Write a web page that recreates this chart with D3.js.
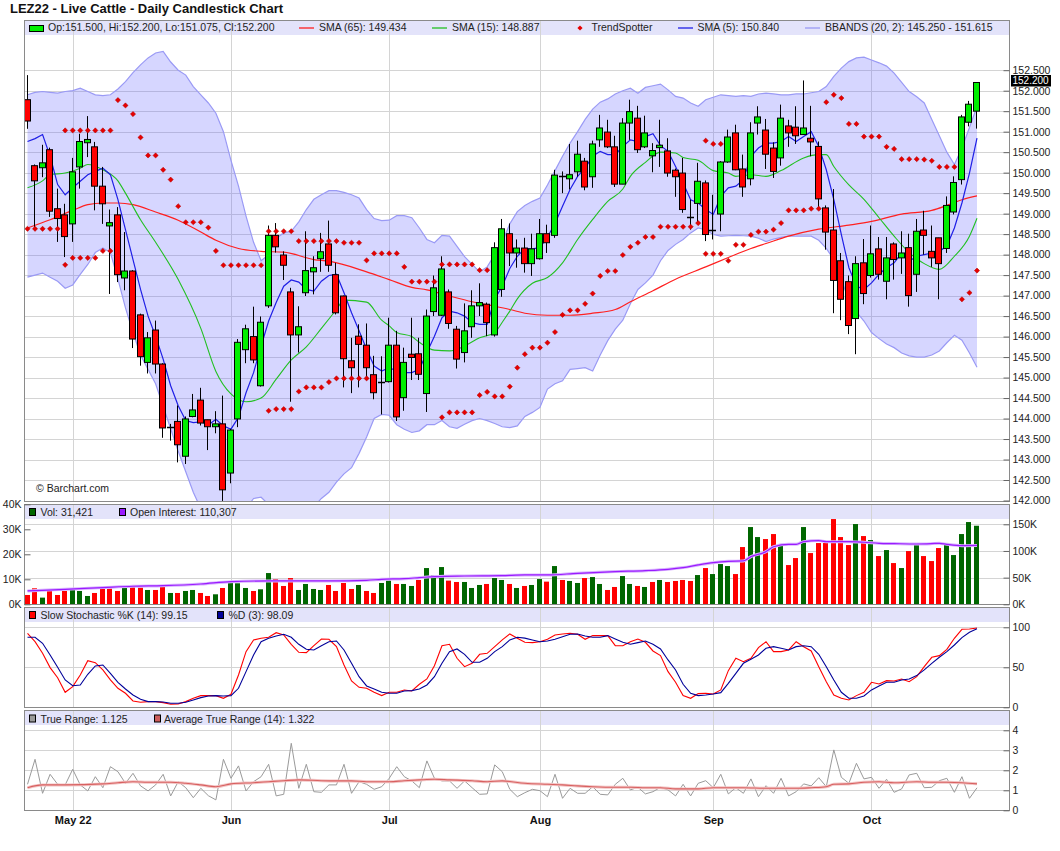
<!DOCTYPE html>
<html>
<head>
<meta charset="utf-8">
<script src="https://cdn.jsdelivr.net/npm/d3@7"></script>
<style>
  body { margin: 0; background: #fff; }
  svg { display: block; font-family: "Liberation Sans", Arial, sans-serif; }
</style>
</head>
<body>
<svg id="chart" width="1060" height="851"></svg>
<script>
// ---- data (Apr 22 - Oct 21 2022, one entry per session) ----
var monthTickIdx = [6, 27, 48, 68, 91, 112];
var monthTickLabels = ["May 22", "Jun", "Jul", "Aug", "Sep", "Oct"];

var opens = [151.78,150.17,150.12,150.56,149.12,148.97,148.75,150.14,150.73,150.63,
149.67,148.70,148.97,147.43,147.60,146.53,145.37,146.16,145.33,143.79,
143.93,143.08,144.05,144.45,143.97,143.80,143.87,142.67,143.99,145.68,
146.00,144.80,146.75,148.47,147.99,147.09,146.04,147.07,147.58,147.90,
148.26,147.51,146.99,145.41,146.01,145.79,145.07,144.90,144.90,145.79,
144.51,145.57,145.58,144.61,146.61,146.52,147.09,146.18,145.61,146.24,
146.75,146.79,146.04,147.15,148.51,148.04,148.16,147.78,147.90,148.51,
148.47,149.91,149.85,150.02,150.28,149.90,150.80,150.99,150.63,149.72,
151.21,151.33,150.63,150.41,150.61,150.53,150.06,149.99,148.91,149.25,
149.75,148.60,148.99,150.26,150.97,150.09,149.85,151.21,151.04,150.60,
150.36,151.14,151.11,150.93,150.84,150.64,149.14,148.60,147.85,147.34,
146.44,147.80,147.49,148.14,147.35,148.26,147.92,148.17,147.52,148.60,
148.08,148.41,148.15,149.04,149.83,151.23,151.50];

var highs = [152.38,150.20,150.68,150.61,149.61,149.24,150.36,150.95,151.38,150.75,
150.14,149.10,149.16,148.55,147.62,146.56,146.11,146.39,145.35,143.87,
144.32,144.05,144.60,144.75,143.97,144.18,144.56,143.75,145.94,146.29,
146.73,146.49,148.71,148.77,148.08,147.19,146.74,148.57,147.96,148.53,
148.83,147.80,147.00,145.97,146.30,146.32,145.53,145.52,146.46,146.14,
145.73,146.46,145.97,146.66,147.49,147.96,147.15,146.26,146.81,147.13,
147.30,146.83,148.30,148.87,148.76,148.37,148.41,148.51,148.87,148.73,
150.07,150.03,150.70,150.78,150.36,150.78,151.41,151.29,150.90,151.33,
151.78,151.63,151.39,150.72,151.29,150.84,150.10,150.36,149.34,150.24,
149.81,149.46,150.28,151.05,151.17,150.44,151.23,151.62,151.31,150.74,
151.66,151.29,151.62,152.25,151.63,150.76,149.20,149.60,148.04,147.49,
147.96,148.38,148.71,148.43,148.43,148.30,148.57,148.51,148.87,149.07,
148.71,148.41,149.42,149.91,151.41,151.75,152.20];

var lows = [151.07,148.67,149.89,148.92,148.31,147.94,148.31,149.61,150.38,149.08,
148.75,147.04,147.33,147.13,145.72,145.29,145.10,145.10,143.53,143.46,
142.93,142.89,144.03,143.83,143.23,143.64,141.99,142.42,143.79,145.35,
145.35,144.78,146.70,148.05,147.38,144.41,145.61,146.99,147.03,147.58,
147.58,146.54,144.76,144.62,144.76,145.00,144.47,144.10,144.88,143.94,
144.19,144.94,144.94,144.16,146.50,146.50,146.19,145.22,145.37,145.97,
146.50,146.01,146.00,146.97,147.72,147.68,147.56,147.48,147.88,148.04,
148.41,149.50,149.59,149.90,149.57,149.63,150.63,150.60,149.65,149.72,
150.80,150.48,150.60,150.01,150.14,149.90,149.41,149.02,148.61,148.77,
148.33,148.37,148.57,150.24,150.06,149.41,149.69,150.93,150.09,149.87,
150.17,150.63,150.70,150.93,150.40,149.10,148.12,146.57,146.40,146.06,
145.57,146.79,147.44,147.39,146.91,147.39,147.53,146.73,147.09,148.00,
147.70,146.91,148.04,148.98,149.71,151.13,151.075];

var closes = [151.26,149.80,150.24,149.06,148.88,148.44,150.02,150.76,150.81,149.67,
149.24,148.78,147.51,147.60,145.94,145.51,145.97,145.33,143.77,143.79,
143.36,143.99,144.21,143.89,143.80,143.87,142.26,143.72,145.86,146.19,
145.43,146.35,148.47,148.19,147.74,146.04,146.24,147.61,147.68,148.07,
147.74,146.58,145.46,145.24,145.81,145.24,144.63,144.90,145.79,144.04,
145.37,145.49,145.08,146.50,147.19,147.65,146.32,145.45,146.14,146.75,
146.83,146.34,148.17,148.63,148.04,148.16,147.78,148.14,148.51,148.29,
149.94,149.91,149.95,150.45,149.65,150.70,151.09,150.63,149.72,151.21,
151.49,150.56,150.97,150.54,150.67,149.99,149.90,149.10,148.91,149.79,
148.49,148.60,150.26,150.87,150.07,149.65,150.97,151.36,150.45,150.03,
151.33,150.97,150.90,151.09,150.75,149.36,148.55,147.37,146.91,146.27,
147.78,147.05,148.02,147.52,147.92,147.88,148.04,147.00,148.57,148.47,
147.92,147.78,149.20,149.76,151.36,151.67,152.20];

var sma5 = [150.76,150.83,150.93,150.40,149.71,149.46,149.63,149.79,149.95,150.03,
150.11,149.95,149.34,148.61,147.88,147.15,146.50,146.01,145.45,144.80,
144.31,143.95,143.90,143.92,143.84,143.98,143.82,143.74,144.03,144.63,
145.12,145.77,146.38,146.83,147.23,147.38,147.33,147.15,147.11,147.35,
147.49,147.52,147.07,146.58,146.14,145.69,145.28,145.16,145.24,145.16,
145.12,145.12,145.20,145.61,146.01,146.46,146.62,146.58,146.50,146.34,
146.30,146.30,146.91,147.23,147.66,147.96,148.15,148.14,148.17,148.43,
148.76,149.18,149.59,149.91,150.11,150.40,150.52,150.44,150.44,150.64,
150.80,150.76,150.88,150.95,150.66,150.52,150.15,149.75,149.34,149.26,
149.10,148.98,149.42,149.63,149.67,149.83,150.40,150.60,150.72,150.72,
150.76,150.88,150.76,150.88,151.00,150.64,150.07,149.34,148.49,147.68,
147.23,147.15,147.31,147.52,147.68,147.80,148.04,147.84,147.96,148.00,
148.04,148.08,148.21,148.65,149.26,149.99,150.84];

// SMA 15 / 65 read at selected sessions
var sma15Idx = [0,2,3,5,7,8,10,12,13,15,17,20,23,25,27,29,31,33,35,37,39,41,42,45,47,48,49,51,52,54,
56,58,60,62,63,64,65,67,69,71,73,75,77,79,80,82,84,86,87,89,91,93,94,96,98,100,103,105,106,107,
109,111,113,115,117,118,119,121,123,125,126];
var sma15 = [149.63,149.80,149.95,149.99,150.11,150.20,150.07,149.80,149.50,148.85,148.30,147.39,146.20,145.15,144.60,144.41,144.50,144.96,145.43,145.75,
146.20,146.66,146.89,146.84,146.40,146.26,146.10,146.00,145.86,145.67,145.65,145.77,145.97,146.10,146.35,146.62,146.92,147.30,147.44,147.80,
148.37,148.86,149.30,149.60,149.91,150.25,150.50,150.48,150.37,150.30,150.05,149.99,149.91,149.95,149.91,150.05,150.36,150.44,150.44,150.15,
149.70,149.35,148.90,148.45,148.05,147.90,147.78,147.64,147.96,148.45,148.887];

var sma65Idx = [0,3,6,8,10,12,14,17,20,23,25,28,31,34,38,40,45,48,51,53,56,59,62,64,66,69,72,75,78,80,
83,86,90,93,96,98,101,105,109,112,116,120,122,124,126];
var sma65 = [148.65,148.85,149.08,149.22,149.26,149.26,149.22,149.04,148.84,148.55,148.35,148.15,148.08,148.06,147.88,147.84,147.58,147.39,147.20,147.14,
146.99,146.85,146.74,146.66,146.57,146.52,146.52,146.57,146.66,146.85,147.12,147.40,147.70,147.93,148.15,148.27,148.45,148.62,148.72,148.81,
148.99,149.08,149.20,149.34,149.434];

var bbUpper = [151.90,151.96,151.98,151.96,151.94,151.98,152.00,152.06,151.98,151.90,
151.88,151.90,152.04,152.22,152.44,152.63,152.80,152.92,152.96,152.70,
152.50,152.38,152.10,151.90,151.70,151.45,151.00,150.30,149.67,148.94,
148.30,147.85,148.00,148.40,148.53,148.57,148.80,149.10,149.35,149.46,
149.56,149.56,149.52,149.46,149.38,149.10,148.88,148.83,148.84,148.95,
148.95,148.90,148.65,148.37,148.29,148.47,148.45,148.20,147.95,147.76,
147.58,147.70,148.00,148.30,148.75,149.05,149.20,149.30,149.38,149.70,
150.05,150.40,150.72,151.00,151.30,151.55,151.72,151.80,151.92,152.00,
152.06,151.94,152.08,152.12,152.16,152.02,151.86,151.82,151.70,151.62,
151.78,151.84,151.90,151.88,151.86,151.88,151.86,151.92,151.94,151.92,
151.90,151.90,151.92,151.92,151.95,151.98,152.10,152.35,152.55,152.71,
152.80,152.82,152.75,152.68,152.60,152.43,152.20,151.98,151.85,151.70,
151.30,150.90,150.50,150.20,150.60,151.10,151.615];

var bbLower = [147.45,147.50,147.55,147.45,147.35,147.18,147.26,147.52,147.76,148.05,
148.16,148.05,147.40,146.70,146.10,145.55,145.20,144.85,144.30,143.75,
143.20,142.70,142.20,141.80,141.65,141.50,141.45,141.40,141.55,141.80,
142.05,142.08,141.90,141.75,141.60,141.50,141.55,141.65,141.85,142.05,
142.20,142.45,142.65,142.80,143.15,143.55,144.00,144.10,144.08,143.85,
143.74,143.66,143.70,143.85,143.85,143.95,143.80,143.76,143.86,143.95,
144.00,143.95,143.88,143.80,143.78,143.82,144.05,144.15,144.27,144.72,
144.85,144.92,145.20,145.22,145.24,145.16,145.55,145.90,146.18,146.40,
146.80,147.15,147.31,147.50,147.85,148.10,148.25,148.37,148.53,148.65,
148.60,148.49,148.45,148.46,148.47,148.46,148.45,148.40,148.32,148.38,
148.42,148.45,148.45,148.45,148.45,148.35,148.15,147.88,147.40,146.87,
146.60,146.38,146.10,145.95,145.82,145.73,145.60,145.53,145.50,145.50,
145.55,145.65,145.85,146.03,145.91,145.60,145.25];

// TrendSpotter dots (some sessions carry one above and one below)
var tsLower = [148.63,148.63,148.63,148.63,148.63,147.75,147.92,147.92,147.92,147.92,
148.09,148.09,null,null,null,null,null,null,null,null,
null,null,null,null,null,null,null,null,null,null,
null,null,144.19,144.23,144.23,144.23,144.66,144.76,144.76,144.76,
144.89,144.98,144.98,144.98,144.98,144.98,null,null,null,null,
null,null,null,null,null,144.03,144.15,144.15,144.15,144.15,
144.57,144.65,144.54,144.54,144.78,145.24,145.57,145.73,145.73,145.85,
146.11,146.53,146.64,146.64,146.80,147.05,147.48,147.60,147.60,147.99,
148.19,148.29,148.43,148.43,148.68,148.68,148.68,148.68,148.68,148.77,
148.02,148.02,148.02,147.85,148.24,148.24,148.48,148.56,148.56,148.61,
148.77,149.08,149.08,149.08,149.12,149.12,null,null,null,null,
null,null,null,null,null,null,null,null,null,null,
null,null,null,null,146.91,147.07,147.61];

var tsUpper = [null,null,null,null,null,151.03,151.03,151.03,151.03,151.03,
151.03,151.03,151.77,151.64,151.43,150.86,150.42,150.42,150.07,149.83,
149.18,148.79,148.79,148.79,148.66,148.09,147.74,147.74,147.74,147.74,
147.74,147.74,148.57,148.57,148.57,148.57,148.33,148.33,148.33,148.33,
148.33,148.33,148.29,148.29,148.29,147.86,148.03,148.03,148.03,148.03,
147.70,147.34,147.34,147.34,147.34,147.76,147.76,147.76,147.76,147.76,
147.62,147.62,null,null,null,null,null,null,null,null,
null,null,null,null,null,null,null,null,null,null,
null,null,null,null,null,null,null,null,null,null,
150.78,150.70,150.70,null,null,null,null,null,null,null,
null,null,null,null,null,null,151.72,151.90,151.82,151.19,
151.19,150.88,150.88,150.88,150.63,150.58,150.33,150.33,150.33,150.32,
150.29,150.14,150.14,150.14,null,null,null];

var volumes = [3730,6400,2670,5330,3730,5330,5730,5330,3330,4530,
6400,6400,5330,7330,7330,6670,5730,5730,6930,4530,
4530,5330,5730,4530,3330,4000,6530,8930,8400,6530,
5330,6000,12500,10100,7330,10500,5730,8130,6130,5730,
7730,5330,8530,6130,7730,5330,4530,8530,9470,8130,
8130,7330,9730,14500,11700,14900,9470,8930,8930,6530,
7730,8130,10500,9730,8130,6530,7330,7730,10100,9070,
15300,9730,9330,8530,10500,10900,8130,5730,6930,11300,
8130,7330,6930,8930,9730,8930,9330,9730,9330,11700,
14500,12100,16100,15300,12100,22900,30900,26900,26100,28100,
23700,15700,18500,30900,20500,24500,24500,34100,26900,23700,
32100,27300,25700,19300,21700,16500,14500,21300,24100,19300,
17300,22500,24100,19700,28100,32900,31421];

var oiIdx = [0,5,10,14,18,23,27,32,36,40,45,47,50,52,54,58,63,66,69,73,
78,82,85,87,89,91,93,95,96,98,99,101,102,103,105,106,109,111,113,115,
118,120,121,122,124,126];
var openInterest = [25000,28100,31300,33800,35000,38100,42500,43800,43800,43800,45000,46900,48100,50000,51900,53100,53800,55000,55000,58100,
61300,63100,65600,68800,73800,78100,80600,81300,89400,98800,108000,112500,112500,117500,119400,117500,117500,116300,114400,113800,
113100,113800,114400,112500,110000,110307];

var stochK = [92.5,82,67.5,49.6,37,18.75,25.8,40.4,58.3,55.8,
46.7,34.2,23.75,17.5,7.9,6.25,7.1,7.1,5.8,3.75,
4.2,7.1,11.25,14.6,14.6,14.6,11.25,16.25,40.4,69.6,
84.2,86.25,87.5,93.3,90.4,78.75,68.75,68.3,77,85.4,
85,75.8,52.9,32.9,25,23.75,18.75,14.6,18.75,18.75,
21.7,20.4,28.75,35.4,52,77,78.75,61.25,50.8,55,
66.25,67.5,75.8,84.2,91.7,86.25,81.25,80.8,82,85,
90.4,91.7,92.5,91.25,85,89.6,89.6,89.6,77,77,
82,85.4,81.25,70.4,64.6,44.6,31.25,14.6,11.25,17.1,
17.5,16.7,21.7,45.8,61.25,57,61.25,74.6,82,69.6,
69.6,71.7,82,75.8,70.4,50.8,32,15.4,11.25,9.2,
14.6,18.75,31.25,29.2,33.3,32.9,35.4,32,38.3,50.8,
62.5,64.6,72.5,86.25,97.5,97.9,99.15];

var stochD = [87.5,87.5,80,65.4,50,34.2,27,27.9,41.25,51.7,
52.9,42.5,31.25,22.9,15.4,10,7.1,7.1,6.7,5,
5,6.25,9.2,12.1,14.2,14.6,14.2,14.6,23.75,44.6,
65.4,82,86.25,89.2,91.25,87.5,78.75,72.5,71.7,77,
82,82.9,71.7,55,38.3,26.7,22.9,18.75,17.5,17.5,
20.4,20.8,22.9,27.9,38.3,55,69.6,72.9,66.25,56.25,
56.25,61.25,69.6,75.8,84.2,87.5,86.5,84.2,82,82.9,
85,88.3,91.25,91.7,89.2,87.5,87.5,89.6,85.4,81.25,
78.75,80.8,82.9,78.75,72.9,59.2,46.7,28.75,17.5,14.6,
15.4,16.7,18.3,30,42.5,55,60,65.4,73.75,75.8,
73.75,71.7,75.8,77,75.8,66.25,50.8,34.2,18.75,11.25,
11.25,14.2,21.7,26.7,31.25,31.25,34.2,35.4,39.6,46.7,
55,62.5,69.6,77.9,87.1,93.75,98.09];

var trueRange = [1.3,2.55,0.85,1.8,1.3,1.27,2.05,1.27,0.97,1.68,
1.13,2.18,1.93,1.35,1.85,1.22,0.97,1.27,1.8,0.72,
1.43,1.13,0.63,1.1,0.73,0.52,2.55,1.6,2.22,0.97,
1.43,1.68,2.3,0.72,0.8,3.35,1.1,2.3,0.93,0.9,
1.27,1.27,2.3,0.85,1.43,1.3,1.05,1.18,1.6,2.18,
1.68,1.47,1.13,2.47,1.6,1.47,1.47,1.1,1.47,1.13,
0.8,0.82,2.27,1.93,1.05,0.68,0.88,1.05,0.98,0.68,
1.8,0.6,1.1,0.85,0.85,1.18,0.8,0.77,1.3,1.6,
1.02,1.15,0.82,0.93,1.15,1.02,0.72,1.3,0.72,1.35,
1.48,1.13,1.8,0.82,1.13,0.85,1.57,0.68,1.23,0.85,
1.6,0.72,0.93,1.32,1.22,1.63,1.18,3.02,1.65,1.35,
2.35,1.57,1.65,1.1,1.55,0.9,1.07,1.77,1.85,1.13,
1.15,1.48,1.6,0.9,1.68,0.6,1.125];

var atrIdx = [0,2,5,10,12,14,16,19,21,23,25,27,30,32,34,36,39,41,43,45,48,50,52,54,56,59,61,63,66,69,
71,73,75,78,80,82,84,86,89,91,93,95,98,100,102,104,106,107,109,111,113,115,118,120,122,124,126];
var atr = [1.13,1.27,1.27,1.32,1.38,1.43,1.40,1.40,1.35,1.27,1.18,1.32,1.38,1.43,1.48,1.52,1.48,1.47,1.47,1.43,
1.43,1.48,1.52,1.55,1.52,1.48,1.43,1.47,1.35,1.30,1.27,1.22,1.18,1.15,1.15,1.13,1.13,1.07,1.07,1.13,
1.13,1.13,1.10,1.10,1.10,1.13,1.18,1.30,1.32,1.40,1.43,1.38,1.43,1.40,1.40,1.38,1.322];

// ---- layout ----
var svg = d3.select("#chart");
var left = 24.5, right = 1009.5;
var pricePanel = { top: 20.5, bottom: 501.5 };
var volPanel = { top: 504.5, bottom: 604.5 };
var stochPanel = { top: 607.5, bottom: 707.5 };
var trPanel = { top: 710.5, bottom: 810.5 };
var bandH = 14.5;
var gridColor = "#d4d4d4";
var fontSize = "10.5px";

var x = d3.scaleLinear().domain([0, closes.length - 1]).range([27.5, 977]);
var yPrice = d3.scaleLinear().domain([142, 152.5]).range([500.5, 70.2]);
var yVol = d3.scaleLinear().domain([0, 40000]).range([604.3, 504.3]);
var yOI = d3.scaleLinear().domain([0, 150000]).range([604.3, 524.3]);
var yStoch = d3.scaleLinear().domain([0, 100]).range([707.3, 627.3]);
var yTR = d3.scaleLinear().domain([0, 4]).range([810.3, 730.3]);

var idx = d3.range(closes.length);
var px = (i) => Math.round(x(i));

// title
svg.append("text")
    .attr("x", 10).attr("y", 13)
    .attr("font-size", "13px").attr("font-weight", "bold").attr("fill", "#111")
    .text("LEZ22 - Live Cattle - Daily Candlestick Chart");

function panelBase(p, hLines, yScale) {
    svg.append("rect")
        .attr("x", left).attr("y", p.top).attr("width", right - left).attr("height", p.bottom - p.top)
        .attr("fill", "#fff");
    svg.append("rect")
        .attr("x", left).attr("y", p.top).attr("width", right - left).attr("height", bandH)
        .attr("fill", "#e3e3fa");
    // horizontal grid
    svg.append("g").selectAll("line")
        .data(hLines).enter().append("line")
        .attr("x1", left).attr("x2", right)
        .attr("y1", (d) => Math.round(yScale(d)) + 0.5).attr("y2", (d) => Math.round(yScale(d)) + 0.5)
        .attr("stroke", gridColor);
    // month grid
    svg.append("g").selectAll("line")
        .data(monthTickIdx).enter().append("line")
        .attr("x1", (d) => px(d) + 0.5).attr("x2", (d) => px(d) + 0.5)
        .attr("y1", p.top).attr("y2", p.bottom)
        .attr("stroke", gridColor);
}

function panelFrame(p) {
    svg.append("rect")
        .attr("x", left).attr("y", p.top).attr("width", right - left).attr("height", p.bottom - p.top)
        .attr("fill", "none").attr("stroke", "#8a8a8a");
}

function rightAxis(scale, ticks, fmt) {
    svg.append("g")
        .attr("transform", `translate(${right},0)`)
        .call(d3.axisRight(scale).tickValues(ticks).tickSize(-6).tickPadding(3).tickFormat(fmt))
        .call((g) => g.select(".domain").remove())
        .attr("color", "#666")
        .attr("font-size", fontSize)
        .attr("font-family", null)
        .selectAll("text").attr("fill", "#222");
}

function legendBox(xp, y, color) {
    svg.append("rect")
        .attr("x", xp + 0.5).attr("y", y + 0.5).attr("width", 6).attr("height", 7)
        .attr("fill", color).attr("stroke", "#000");
}

function legendText(xp, y, txt) {
    svg.append("text")
        .attr("x", xp).attr("y", y)
        .attr("font-size", fontSize).attr("fill", "#222")
        .text(txt);
}

var diamond = "M0,-2.6L2.6,0L0,2.6L-2.6,0Z";

// ================= price panel =================
var priceTicks = d3.range(142, 152.51, 0.5);
panelBase(pricePanel, priceTicks, yPrice);

svg.append("clipPath").attr("id", "priceClip")
    .append("rect").attr("x", left).attr("y", pricePanel.top + bandH)
    .attr("width", right - left).attr("height", pricePanel.bottom - pricePanel.top - bandH);

var pg = svg.append("g").attr("clip-path", "url(#priceClip)");

// bollinger bands
pg.append("path")
    .datum(idx)
    .attr("d", d3.area().x((i) => x(i)).y0((i) => yPrice(bbLower[i])).y1((i) => yPrice(bbUpper[i])))
    .attr("fill", "#6666ff").attr("fill-opacity", 0.27);

[bbUpper, bbLower].forEach(function (band) {
    pg.append("path")
        .datum(idx)
        .attr("d", d3.line().x((i) => x(i)).y((i) => yPrice(band[i])))
        .attr("fill", "none").attr("stroke", "#9a9af5").attr("stroke-width", 1.2);
});

// moving averages
pg.append("path")
    .datum(sma65Idx.map((d, k) => [d, sma65[k]]))
    .attr("d", d3.line().curve(d3.curveMonotoneX).x((d) => x(d[0])).y((d) => yPrice(d[1])))
    .attr("fill", "none").attr("stroke", "#ff2020").attr("stroke-width", 1.2);

pg.append("path")
    .datum(sma15Idx.map((d, k) => [d, sma15[k]]))
    .attr("d", d3.line().curve(d3.curveMonotoneX).x((d) => x(d[0])).y((d) => yPrice(d[1])))
    .attr("fill", "none").attr("stroke", "#22c022").attr("stroke-width", 1.1);

pg.append("path")
    .datum(idx)
    .attr("d", d3.line().x((i) => x(i)).y((i) => yPrice(sma5[i])))
    .attr("fill", "none").attr("stroke", "#1f1fe6").attr("stroke-width", 1.2);

// candles
var candles = pg.append("g");
candles.selectAll("line.wick")
    .data(idx).enter().append("line")
    .attr("class", "wick")
    .attr("x1", (i) => px(i) - 0.5).attr("x2", (i) => px(i) - 0.5)
    .attr("y1", (i) => yPrice(highs[i])).attr("y2", (i) => yPrice(lows[i]))
    .attr("stroke", "#000");

candles.selectAll("rect")
    .data(idx.filter((i) => opens[i] !== closes[i])).enter().append("rect")
    .attr("x", (i) => px(i) - 3.5)
    .attr("y", (i) => yPrice(Math.max(opens[i], closes[i])))
    .attr("width", 6)
    .attr("height", (i) => Math.max(1, Math.abs(yPrice(opens[i]) - yPrice(closes[i]))))
    .attr("fill", (i) => closes[i] > opens[i] ? "#00ee00" : "#ff0000")
    .attr("stroke", "#000");

candles.selectAll("line.doji")
    .data(idx.filter((i) => opens[i] === closes[i])).enter().append("line")
    .attr("class", "doji")
    .attr("x1", (i) => px(i) - 4).attr("x2", (i) => px(i) + 3)
    .attr("y1", (i) => Math.round(yPrice(opens[i])) + 0.5).attr("y2", (i) => Math.round(yPrice(opens[i])) + 0.5)
    .attr("stroke", "#000").attr("stroke-width", 1.5);

// trendspotter
[tsUpper, tsLower].forEach(function (ts) {
    pg.append("g").selectAll("path")
        .data(idx.filter((i) => ts[i] !== null)).enter().append("path")
        .attr("d", diamond)
        .attr("transform", (i) => `translate(${x(i)},${yPrice(ts[i])})`)
        .attr("fill", "#e60000").attr("stroke", "#b00000").attr("stroke-width", 0.5);
});

svg.append("text")
    .attr("x", 36).attr("y", 492)
    .attr("font-size", fontSize).attr("fill", "#222")
    .text("\u00a9 Barchart.com");

panelFrame(pricePanel);
rightAxis(yPrice, priceTicks, d3.format(".3f"));

// last price tag
var last = closes[closes.length - 1];
svg.append("rect")
    .attr("x", 1011).attr("y", yPrice(last) - 7.5).attr("width", 40).attr("height", 11.5)
    .attr("fill", "#000");
svg.append("text")
    .attr("x", 1012.5).attr("y", yPrice(last) - 1.8).attr("dy", "0.35em")
    .attr("font-size", "10px").attr("fill", "#fff")
    .text(d3.format(".3f")(last));

// price legend
var ly = 31;
svg.append("rect").attr("x", 29.5).attr("y", 25.5).attr("width", 14).attr("height", 6)
    .attr("fill", "#00ee00").attr("stroke", "#000");
legendText(48, ly, "Op:151.500, Hi:152.200, Lo:151.075, Cl:152.200");
svg.append("line").attr("x1", 299).attr("x2", 314).attr("y1", 28).attr("y2", 28).attr("stroke", "#ff2020").attr("stroke-width", 1.3);
legendText(319, ly, "SMA (65): 149.434");
svg.append("line").attr("x1", 432).attr("x2", 447).attr("y1", 28).attr("y2", 28).attr("stroke", "#22c022").attr("stroke-width", 1.3);
legendText(452, ly, "SMA (15): 148.887");
svg.append("path").attr("d", diamond).attr("transform", "translate(580,28)").attr("fill", "#e60000");
legendText(591.5, ly, "TrendSpotter");
svg.append("line").attr("x1", 678).attr("x2", 693).attr("y1", 28).attr("y2", 28).attr("stroke", "#1f1fe6").attr("stroke-width", 1.3);
legendText(697.5, ly, "SMA (5): 150.840");
svg.append("line").attr("x1", 805).attr("x2", 820).attr("y1", 28).attr("y2", 28).attr("stroke", "#9a9af5").attr("stroke-width", 1.3);
legendText(825, ly, "BBANDS (20, 2): 145.250 - 151.615");

// ================= volume panel =================
var oiTicks = [0, 50000, 100000, 150000];
panelBase(volPanel, [50000, 100000, 150000], yOI);

svg.append("g").selectAll("rect")
    .data(idx).enter().append("rect")
    .attr("x", (i) => px(i) - 3)
    .attr("y", (i) => yVol(volumes[i]))
    .attr("width", 5)
    .attr("height", (i) => yVol(0) - yVol(volumes[i]))
    .attr("fill", (i) => {
        var up = i === 0 ? closes[i] > opens[i] : closes[i] >= closes[i - 1];
        return up ? "#006600" : "#ff0000";
    });

var oiLine = d3.line().curve(d3.curveMonotoneX).x((d) => x(d[0])).y((d) => yOI(d[1]));
var oiPts = oiIdx.map((d, k) => [d, openInterest[k]]);
svg.append("path").datum(oiPts).attr("d", oiLine)
    .attr("fill", "none").attr("stroke", "#d9b3ff").attr("stroke-width", 3);
svg.append("path").datum(oiPts).attr("d", oiLine)
    .attr("fill", "none").attr("stroke", "#9a1aff").attr("stroke-width", 1.2);

panelFrame(volPanel);
rightAxis(yOI, oiTicks, (d) => d / 1000 + "K");

svg.append("g")
    .attr("transform", `translate(${left},0)`)
    .call(d3.axisLeft(yVol).tickValues([0, 10000, 20000, 30000, 40000]).tickSize(-6).tickPadding(3).tickFormat((d) => d / 1000 + "K"))
    .call((g) => g.select(".domain").remove())
    .attr("color", "#666")
    .attr("font-size", fontSize)
    .attr("font-family", null)
    .selectAll("text").attr("fill", "#222");

legendBox(29, 508, "#006600");
legendText(40.5, 516, "Vol: 31,421");
legendBox(119, 508, "#9a1aff");
legendText(130, 516, "Open Interest: 110,307");

// ================= stochastic panel =================
panelBase(stochPanel, [50, 100], yStoch);

svg.append("path").datum(idx)
    .attr("d", d3.line().x((i) => x(i)).y((i) => yStoch(stochK[i])))
    .attr("fill", "none").attr("stroke", "#ff0000").attr("stroke-width", 1.1);
svg.append("path").datum(idx)
    .attr("d", d3.line().x((i) => x(i)).y((i) => yStoch(stochD[i])))
    .attr("fill", "none").attr("stroke", "#000099").attr("stroke-width", 1.1);

panelFrame(stochPanel);
rightAxis(yStoch, [0, 50, 100], d3.format("d"));

legendBox(29, 611, "#ff0000");
legendText(40.5, 619, "Slow Stochastic %K (14): 99.15");
legendBox(217, 611, "#000099");
legendText(228.5, 619, "%D (3): 98.09");

// ================= true range panel =================
panelBase(trPanel, [1, 2, 3, 4], yTR);

svg.append("path").datum(idx)
    .attr("d", d3.line().x((i) => x(i)).y((i) => yTR(trueRange[i])))
    .attr("fill", "none").attr("stroke", "#9a9a9a").attr("stroke-width", 1);

var atrLine = d3.line().curve(d3.curveMonotoneX).x((d) => x(d[0])).y((d) => yTR(d[1]));
var atrPts = atrIdx.map((d, k) => [d, atr[k]]);
svg.append("path").datum(atrPts).attr("d", atrLine)
    .attr("fill", "none").attr("stroke", "#f2c4c4").attr("stroke-width", 3);
svg.append("path").datum(atrPts).attr("d", atrLine)
    .attr("fill", "none").attr("stroke", "#d86060").attr("stroke-width", 1.1);

panelFrame(trPanel);
rightAxis(yTR, [0, 1, 2, 3, 4], d3.format("d"));

legendBox(29, 714.5, "#9a9a9a");
legendText(40.5, 722.5, "True Range: 1.125");
legendBox(154, 714.5, "#cd5c5c");
legendText(164, 722.5, "Average True Range (14): 1.322");

// ================= x axis =================
svg.append("g")
    .attr("transform", `translate(0,${trPanel.bottom})`)
    .call(d3.axisBottom(x).tickValues(monthTickIdx).tickSize(0).tickPadding(6)
        .tickFormat((d, k) => monthTickLabels[k]))
    .call((g) => g.select(".domain").remove())
    .attr("font-size", "11px")
    .attr("font-family", null)
    .attr("font-weight", "bold")
    .selectAll("text").attr("fill", "#111");
</script>
</body>
</html>
